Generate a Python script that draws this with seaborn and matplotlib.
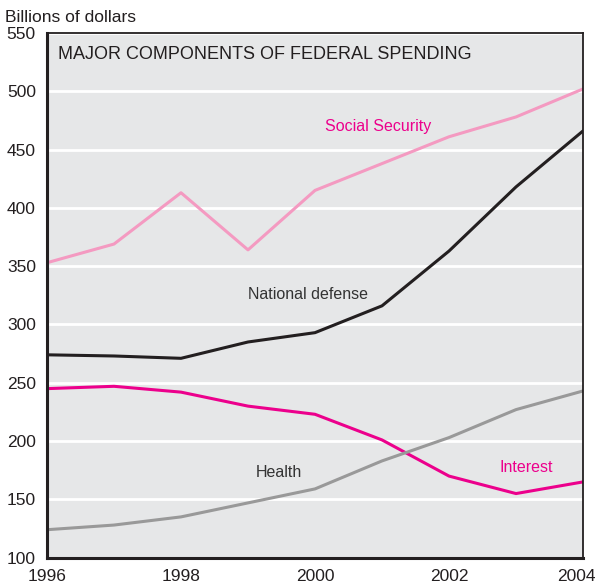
import pandas as pd
import numpy as np
import matplotlib.pyplot as plt
import matplotlib.transforms as mtransforms
import seaborn as sns

years = [1996, 1997, 1998, 1999, 2000, 2001, 2002, 2003, 2004]
social_security = [353, 369, 413, 364, 415, 438, 461, 478, 502]
national_defense = [274, 273, 271, 285, 293, 316, 363, 418, 466]
interest = [245, 247, 242, 230, 223, 201, 170, 155, 165]
health = [124, 128, 135, 147, 159, 183, 203, 227, 243]

series_names = ['Social Security', 'National defense', 'Interest', 'Health']
series_colors = ['#F49AC1', '#231F20', '#EC008C', '#999999']

df = pd.DataFrame({
    'year': years * 4,
    'value': social_security + national_defense + interest + health,
    'series': [n for n in series_names for _ in years],
})

sns.set_style('white')
plt.rcParams['font.family'] = ['Liberation Sans', 'DejaVu Sans']

fig = plt.figure(figsize=(5.96, 5.86), dpi=100)
ax = fig.add_axes([47 / 596, 28.3 / 586, 536 / 596, 524.7 / 586])
ax.set_facecolor('#E6E7E8')

for yv in range(150, 551, 50):
    ax.axhline(yv, color='white', lw=2, zorder=1)

sns.lineplot(data=df, x='year', y='value', hue='series', hue_order=series_names,
             palette=dict(zip(series_names, series_colors)), linewidth=2.2,
             legend=False, ax=ax, zorder=3)

ax.set_xlim(1996, 2004)
ax.set_ylim(100, 550)
ax.set_xticks([1996, 1998, 2000, 2002, 2004])
ax.set_yticks(range(100, 551, 50))
ax.tick_params(axis='both', direction='in', length=12, width=2, color='#231F20',
               labelsize=12.5, labelcolor='#231F20')
ax.tick_params(axis='y', pad=8)
ax.tick_params(axis='x', pad=8)
ax.set_xlabel('')
ax.set_ylabel('')
for side, s in ax.spines.items():
    s.set_color('#231F20')
    s.set_linewidth(2.2 if side in ('left', 'bottom') else 1.3)
    s.set_zorder(5)

# last year label sits against the right edge, as in the original
fig.canvas.draw()
last = ax.get_xticklabels()[-1]
last.set_horizontalalignment('right')
last.set_transform(last.get_transform() +
                   mtransforms.ScaledTranslation(13 / 100, 0, fig.dpi_scale_trans))

fig.text(5 / 596, 1 - 17 / 586, 'Billions of dollars', fontsize=12.5,
         color='#231F20', va='center', ha='left')
ax.text(0.02, 0.975, 'MAJOR COMPONENTS OF FEDERAL SPENDING', transform=ax.transAxes,
        fontsize=13, color='#231F20', va='top', ha='left')

ax.text(2000.94, 470, 'Social Security', color='#EC008C', fontsize=11.5, ha='center', va='center')
ax.text(1999.9, 326, 'National defense', color='#333333', fontsize=11.5, ha='center', va='center')
ax.text(1999.46, 173, 'Health', color='#333333', fontsize=11.5, ha='center', va='center')
ax.text(2003.16, 177, 'Interest', color='#EC008C', fontsize=11.5, ha='center', va='center')

fig.savefig('out.png', dpi=100)
